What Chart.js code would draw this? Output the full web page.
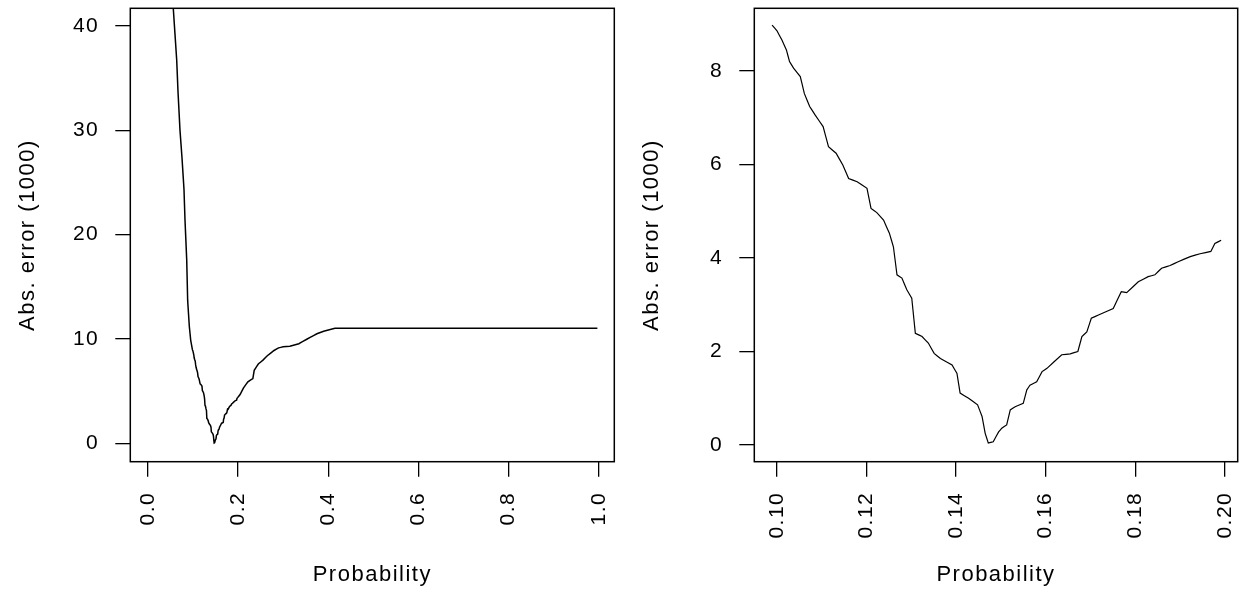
<!DOCTYPE html>
<html>
<head>
<meta charset="utf-8">
<script src="https://cdn.jsdelivr.net/npm/chart.js@4"></script>
<style>
  body { margin: 0; background: #fff; }
  .panel { position: absolute; top: 0; }
</style>
</head>
<body>
<div class="panel" style="left:0px"><canvas id="left" width="620" height="592"></canvas></div>
<div class="panel" style="left:624px"><canvas id="right" width="619" height="592"></canvas></div>
<script>
// probability below 0.1 (only on the full-range panel)
const probLow = [0.050, 0.0565, 0.0641, 0.0670, 0.0714, 0.0758, 0.0803, 0.0825, 0.0863, 0.0884, 0.0921, 0.0951];
const errLow = [45.9, 41.7, 36.75, 33.7, 30.0, 27.4, 24.3, 21.4, 17.6, 13.7, 11.2, 9.9];

// probability 0.1 - 0.2 (the zoomed panel)
const probMid = [0.0989, 0.1000, 0.1011, 0.1021, 0.1028, 0.1037, 0.1052, 0.1061, 0.1073, 0.1085,
  0.1103, 0.1115, 0.1132, 0.1147, 0.1160, 0.1179, 0.1201, 0.1210, 0.1223, 0.1238,
  0.1251, 0.1260, 0.1268, 0.1279, 0.1290, 0.1301, 0.1309, 0.1324, 0.1338, 0.1351,
  0.1365, 0.1391, 0.1402, 0.1409, 0.1428, 0.1448, 0.1458, 0.1465, 0.1472, 0.1483,
  0.1495, 0.1502, 0.1513, 0.1521, 0.1532, 0.1550, 0.1558, 0.1565, 0.1580, 0.1592,
  0.1603, 0.1636, 0.1655, 0.1672, 0.1681, 0.1692, 0.1702, 0.1718, 0.1751, 0.1769,
  0.1781, 0.1807, 0.1829, 0.1844, 0.1859, 0.1878, 0.1896, 0.1923, 0.1945, 0.1969,
  0.1978, 0.1992];
const errMid = [8.98, 8.86, 8.66, 8.45, 8.20, 8.06, 7.88, 7.52, 7.24, 7.06,
  6.81, 6.38, 6.24, 5.99, 5.70, 5.63, 5.49, 5.06, 4.97, 4.81,
  4.53, 4.24, 3.64, 3.57, 3.32, 3.14, 2.39, 2.32, 2.18, 1.96,
  1.85, 1.71, 1.53, 1.11, 1.00, 0.86, 0.61, 0.25, 0.04, 0.07,
  0.28, 0.36, 0.43, 0.75, 0.82, 0.89, 1.18, 1.28, 1.35, 1.57,
  1.64, 1.93, 1.95, 2.00, 2.32, 2.42, 2.71, 2.78, 2.92, 3.28,
  3.26, 3.49, 3.60, 3.64, 3.78, 3.84, 3.92, 4.03, 4.09, 4.14,
  4.31, 4.38];

// probability above 0.2 (only on the full-range panel)
const probHigh = [0.205, 0.212, 0.222, 0.233, 0.236, 0.245, 0.256, 0.265, 0.280, 0.290,
  0.300, 0.315, 0.335, 0.345, 0.360, 0.375, 0.390, 0.415, 0.997];
const errHigh = [4.7, 5.3, 5.9, 6.2, 7.0, 7.6, 8.0, 8.4, 8.9, 9.15,
  9.25, 9.3, 9.55, 9.8, 10.15, 10.5, 10.75, 11.03, 11.03];

const xTicksLeft = [0, 0.2, 0.4, 0.6, 0.8, 1.0];
const yTicksLeft = [0, 10, 20, 30, 40];
const xTicksRight = [0.10, 0.12, 0.14, 0.16, 0.18, 0.20];
const yTicksRight = [0, 2, 4, 6, 8];

const xTitle = 'Probability';
const yTitle = 'Abs. error (1000)';

Chart.defaults.font.family = '"Liberation Sans", Arial, sans-serif';
Chart.defaults.color = '#000';

const boxPlugin = {
    id: 'box',
    beforeDraw(chart) {
        chart.ctx.letterSpacing = '1.5px';
    },
    afterDatasetsDraw(chart) {
        const {ctx, chartArea: a} = chart;
        ctx.save();
        ctx.strokeStyle = '#000';
        ctx.lineWidth = 1.5;
        ctx.strokeRect(a.left, a.top, a.right - a.left, a.bottom - a.top);
        ctx.restore();
    }
};

// no extra room for overhanging tick labels, the plot box is fixed
function noPadding(s) {
    s.paddingLeft = 0;
    s.paddingRight = 0;
    s.paddingTop = 0;
    s.paddingBottom = 0;
}

function createChart(canvasElement, xs, ys, xTicks, yTicks, xRange, yRange, digits, lineWidth, padRight) {
    new Chart(canvasElement, {
        type: 'line',
        data: {
            datasets: [{
                data: xs.map((x, i) => ({x: x, y: ys[i]})),
                borderColor: '#000',
                borderWidth: lineWidth,
                pointRadius: 0,
                // tiny tension: keeps Chart.js off its fast path, which draws
                // steep neighbouring points as vertical bars
                tension: 0.001
            }]
        },
        options: {
            responsive: false,
            animation: false,
            layout: { padding: { top: 8.3, right: padRight, left: 0, bottom: 0 } },
            plugins: { legend: { display: false }, tooltip: { enabled: false } },
            scales: {
                x: {
                    type: 'linear',
                    min: xRange[0],
                    max: xRange[1],
                    afterBuildTicks: s => { s.ticks = xTicks.map(v => ({value: v})); },
                    afterFit: s => { s.height = 130.3; noPadding(s); },
                    border: { display: false },
                    grid: { drawOnChartArea: false, drawTicks: true, tickLength: 15, color: '#000', lineWidth: 1.3 },
                    ticks: {
                        autoSkip: false,
                        minRotation: 90,
                        maxRotation: 90,
                        padding: 15,
                        font: { size: 21 },
                        callback: v => v.toFixed(digits)
                    },
                    title: {
                        display: true,
                        text: xTitle,
                        font: { size: 22, lineHeight: 1.2 },
                        padding: { top: 0, bottom: 4 }
                    }
                },
                y: {
                    min: yRange[0],
                    max: yRange[1],
                    afterBuildTicks: s => { s.ticks = yTicks.map(v => ({value: v})); },
                    afterFit: s => { s.width = 130.3; noPadding(s); },
                    border: { display: false },
                    grid: { drawOnChartArea: false, drawTicks: true, tickLength: 15, color: '#000', lineWidth: 1.3 },
                    ticks: {
                        padding: 16,
                        font: { size: 21 },
                        callback: v => String(v)
                    },
                    title: {
                        display: true,
                        text: yTitle,
                        font: { size: 22, lineHeight: 1.2 },
                        padding: { top: 14.5, bottom: 0 }
                    }
                }
            }
        },
        plugins: [boxPlugin]
    });
}

createChart(document.getElementById('left'),
    probLow.concat(probMid, probHigh), errLow.concat(errMid, errHigh),
    xTicksLeft, yTicksLeft, [-0.0388, 1.0345], [-1.76, 41.7], 1, 1.5, 5.7);

createChart(document.getElementById('right'),
    probMid, errMid,
    xTicksRight, yTicksRight, [0.09493, 0.2029], [-0.357, 9.34], 2, 1.2, 5.3);
</script>
</body>
</html>
